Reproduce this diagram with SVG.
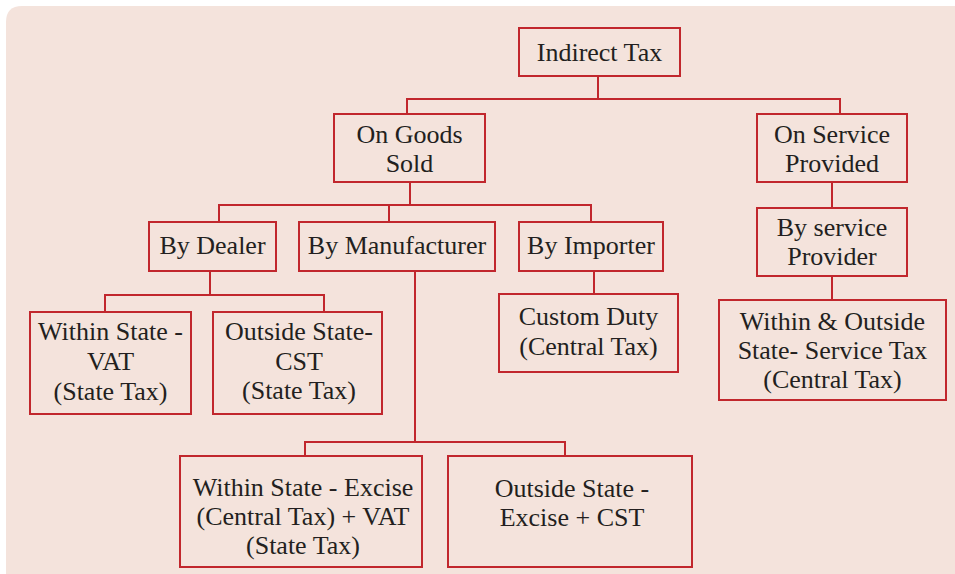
<svg xmlns="http://www.w3.org/2000/svg" width="955" height="574" viewBox="0 0 955 574">
<style>
.bx{fill:none;stroke:#C1272D;stroke-width:2}
.ln{fill:none;stroke:#C1272D;stroke-width:2}
text{font-family:"Liberation Serif","Times New Roman",serif;font-size:26px;fill:#231F20;text-anchor:middle}
</style>
<rect width="955" height="574" fill="#FFFFFF"/>
<path d="M6,22 Q6,6 22,6 H955 V574 H6 Z" fill="#F4E3DC"/>
<g id="connectors">
<path class="ln" d="M598,76 V99 M407,114 V99 H840 V114"/>
<path class="ln" d="M410,182 V205 M219,222 V205 H591 V222 M389,205 V222"/>
<path class="ln" d="M832,182 V208 M832,276 V300"/>
<path class="ln" d="M210,271 V295 M105,312 V295 H324 V312"/>
<path class="ln" d="M594,271 V294"/>
<path class="ln" d="M415,271 V442 M305,456 V442 H565 V456"/>
</g>
<g id="indirect-tax"><rect class="bx" x="519" y="28" width="161" height="48"/><text x="599.5" y="61">Indirect Tax</text></g>
<g id="on-goods-sold"><rect class="bx" x="334" y="114" width="151" height="68"/><text x="409.5" y="143">On Goods</text><text x="409.5" y="172">Sold</text></g>
<g id="on-service-provided"><rect class="bx" x="757" y="114" width="150" height="68"/><text x="832" y="143">On Service</text><text x="832" y="172">Provided</text></g>
<g id="by-dealer"><rect class="bx" x="149" y="222" width="127" height="49"/><text x="212.5" y="254">By Dealer</text></g>
<g id="by-manufacturer"><rect class="bx" x="299" y="222" width="196" height="49"/><text x="397" y="254">By Manufacturer</text></g>
<g id="by-importer"><rect class="bx" x="519" y="222" width="144" height="49"/><text x="591" y="254">By Importer</text></g>
<g id="by-service-provider"><rect class="bx" x="757" y="208" width="150" height="68"/><text x="832" y="236">By service</text><text x="832" y="265">Provider</text></g>
<g id="within-state-vat"><rect class="bx" x="30" y="312" width="161" height="102"/><text x="110.5" y="340">Within State -</text><text x="110.5" y="370">VAT</text><text x="110.5" y="400">(State Tax)</text></g>
<g id="outside-state-cst"><rect class="bx" x="213" y="312" width="169" height="102"/><text x="299" y="340">Outside State-</text><text x="299" y="370">CST</text><text x="299" y="399">(State Tax)</text></g>
<g id="custom-duty"><rect class="bx" x="499" y="294" width="179" height="78"/><text x="588.5" y="325">Custom Duty</text><text x="588.5" y="355">(Central Tax)</text></g>
<g id="service-tax"><rect class="bx" x="719" y="300" width="227" height="100"/><text x="832.5" y="330">Within &amp; Outside</text><text x="832.5" y="359">State- Service Tax</text><text x="832.5" y="388">(Central Tax)</text></g>
<g id="within-state-excise"><rect class="bx" x="180" y="456" width="242" height="111"/><text x="303" y="496">Within State - Excise</text><text x="303" y="525">(Central Tax) + VAT</text><text x="303" y="554">(State Tax)</text></g>
<g id="outside-state-excise"><rect class="bx" x="448" y="456" width="244" height="111"/><text x="572" y="497">Outside State -</text><text x="572" y="526">Excise + CST</text></g>
</svg>
